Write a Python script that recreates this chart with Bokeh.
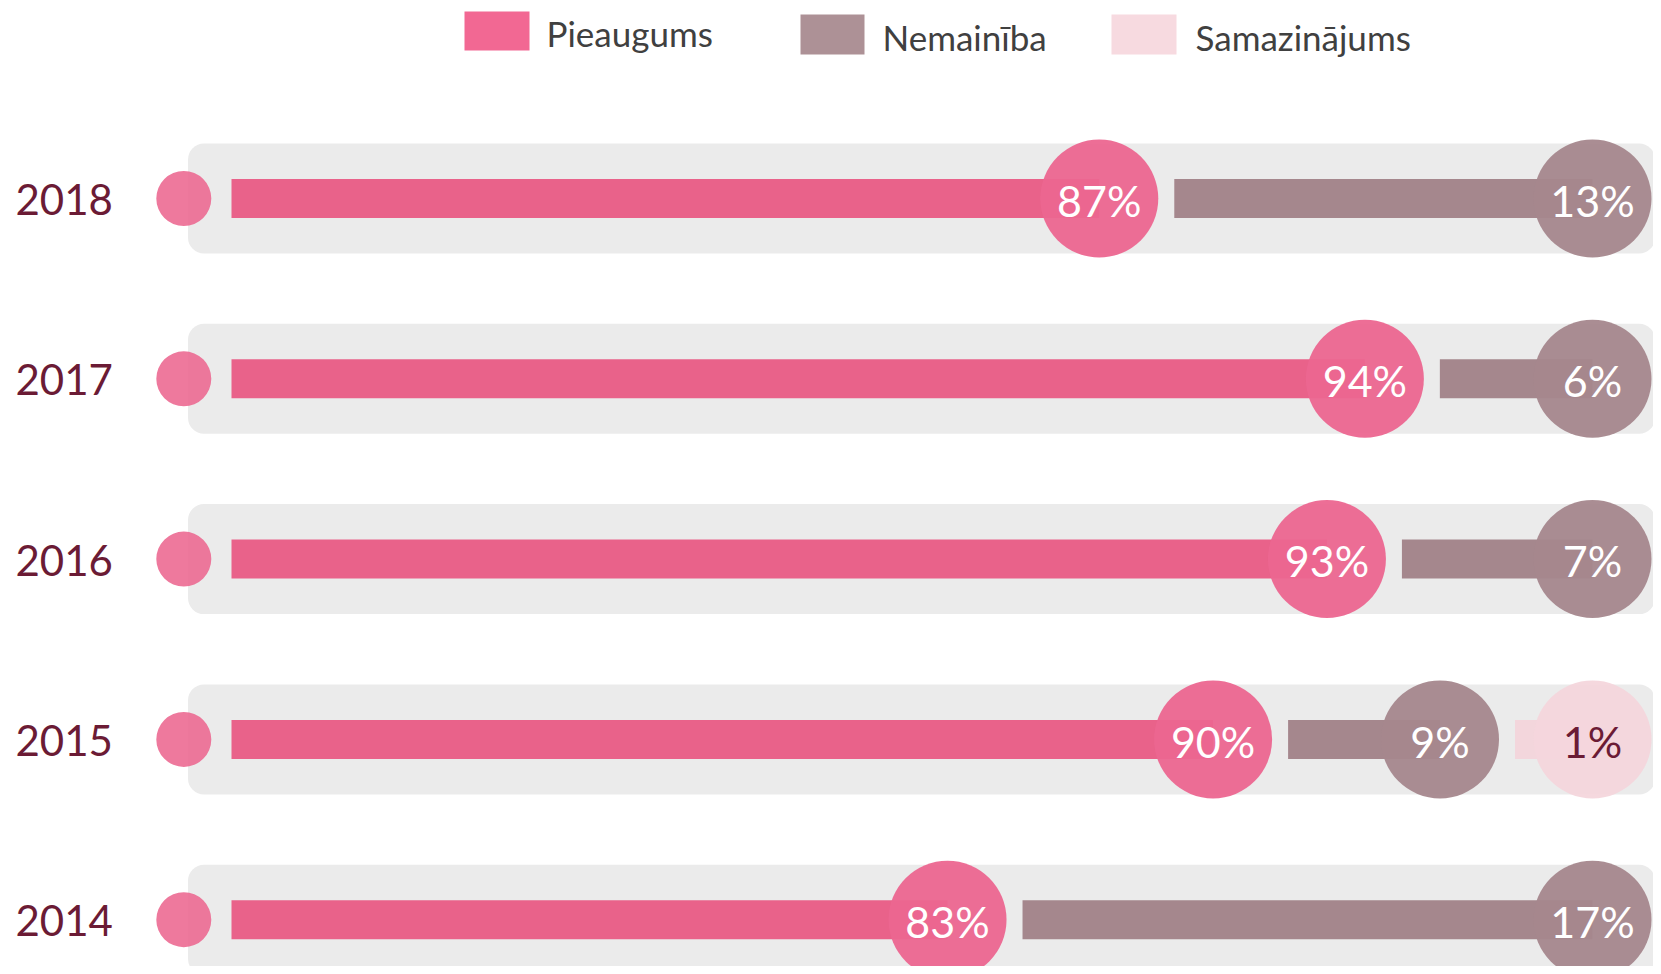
from bokeh.plotting import figure
from bokeh.models import Range1d
from bokeh.core.properties import value
from bokeh.embed import file_html
from bokeh.resources import INLINE

# ---------------- data ----------------
years = ["2018", "2017", "2016", "2015", "2014"]
pieaugums = [87, 94, 93, 90, 83]
nemainiba = [13, 6, 7, 9, 17]
samazinajums = [0, 0, 0, 1, 0]
series_names = ["Pieaugums", "Nemainība", "Samazinājums"]

# ---------------- styles ----------------
bar_colors = ["#E9628A", "#A5878D", "#F3D6DC"]
circle_colors = ["#EC6690", "#A5878D", "#F4D6DC"]
legend_colors = ["#F26893", "#AD9196", "#F7DAE0"]
label_colors = ["#FFFFFF", "#FFFFFF", "#6B1B35"]
YEAR_COLOR = "#6B1B35"
BG_COLOR = "#EBEBEB"
FONT = "Lato"

W, H = 1653, 966
OFF = 0               # page offset of the frame
K = 37.94             # screen px per percentage point
X0 = 100 - (1592 - OFF) / K   # value at the left edge of the frame
ROW_PX = 180.3        # screen px per row
Y_TOP = -(198 - OFF) / ROW_PX  # row value at the top edge

def px_x(page_px):
    return X0 + (page_px - OFF) / K

def px_y(page_py):
    return Y_TOP + (page_py - OFF) / ROW_PX

CIRCLE_PX = 118
DOT_PX = 55
MIN_SEP = 152.5 / K            # min distance between circle centres
GAP = 75 / K                   # gap between circle and next bar
BAR_H = 39 / ROW_PX
BG_H = 110 / ROW_PX

p = figure(width=W, height=H, output_backend="svg", toolbar_location=None,
           x_range=Range1d(X0, X0 + W / K),
           y_range=Range1d(Y_TOP + H / ROW_PX, Y_TOP),
           min_border=0, outline_line_color=None)
p.axis.visible = False
p.grid.visible = False
p.background_fill_color = "white"
p.border_fill_color = "white"

rows = list(range(len(years)))

# background pills
p.quad(left=[px_x(187.5)] * len(rows), right=[px_x(1654.6)] * len(rows),
       bottom=[r + BG_H / 2 for r in rows], top=[r - BG_H / 2 for r in rows],
       fill_color=BG_COLOR, line_color=None, border_radius=16)

# left dots
p.scatter(x=[px_x(183.3)] * len(rows), y=rows, size=DOT_PX, marker="circle",
          fill_color=circle_colors[0], fill_alpha=0.88, line_color=None)

# year labels
p.text(x=[px_x(15)] * len(rows), y=[r + 0.005 for r in rows], text=years,
       text_align="left", text_baseline="middle", text_color=YEAR_COLOR,
       text_font=value(FONT), text_font_size="42px")

# compute layout from data
bars = {i: dict(left=[], right=[], y=[]) for i in range(3)}
circs = {i: dict(x=[], y=[], t=[]) for i in range(3)}
bar_start = px_x(231)
for r in rows:
    vals = [pieaugums[r], nemainiba[r], samazinajums[r]]
    segs = [(i, v) for i, v in enumerate(vals) if v > 0]
    cum, c = [], 0
    for _, v in segs:
        c += v
        cum.append(c)
    pos = [0] * len(segs)
    pos[-1] = cum[-1]
    for j in range(len(segs) - 2, -1, -1):
        pos[j] = min(cum[j], pos[j + 1] - MIN_SEP)
    for j, (i, v) in enumerate(segs):
        left = bar_start if j == 0 else pos[j - 1] + GAP
        bars[i]["left"].append(left)
        bars[i]["right"].append(pos[j])
        bars[i]["y"].append(r)
        circs[i]["x"].append(pos[j])
        circs[i]["y"].append(r)
        circs[i]["t"].append(f"{v}%")

for i in range(3):
    p.hbar(y=bars[i]["y"], left=bars[i]["left"], right=bars[i]["right"],
           height=BAR_H, fill_color=bar_colors[i], line_color=None)
for i in range(3):
    p.scatter(x=circs[i]["x"], y=circs[i]["y"], size=CIRCLE_PX, marker="circle",
              fill_color=circle_colors[i], fill_alpha=0.95, line_color=None)
    p.text(x=circs[i]["x"], y=[yy + 0.01 for yy in circs[i]["y"]], text=circs[i]["t"],
           text_align="center", text_baseline="middle", text_color=label_colors[i],
           text_font=value(FONT), text_font_size="43px")

# legend (drawn manually)
sw = [(464, 11, 529, 50), (800, 14, 864, 54), (1111, 14, 1176, 54)]
lx = [546, 882, 1195]
for i in range(3):
    l, t, rr, b = sw[i]
    p.quad(left=[px_x(l)], right=[px_x(rr)], top=[px_y(t)], bottom=[px_y(b)],
           fill_color=legend_colors[i], line_color=None)
    p.text(x=[px_x(lx[i])], y=[px_y((t + b) / 2 + 2)], text=[series_names[i]],
           text_align="left", text_baseline="middle", text_color="#404040",
           text_font=value(FONT), text_font_size="35px")

open("out.html", "w").write(file_html(p, INLINE))
